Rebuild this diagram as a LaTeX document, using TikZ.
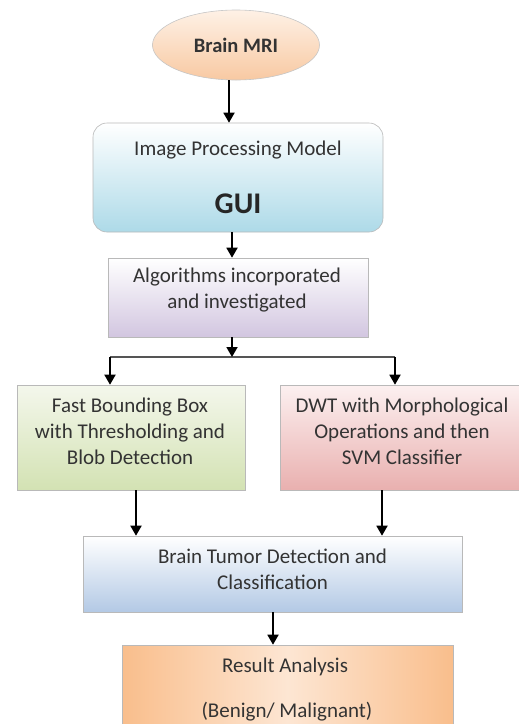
\documentclass[tikz,border=0pt]{standalone}
\usepackage{fontspec}
\setmainfont{Carlito}
\usetikzlibrary{shapes.geometric,arrows.meta,calc}
\definecolor{mriTop}{HTML}{FEF1E6}
\definecolor{mriBot}{HTML}{F8C9A2}
\definecolor{guiBot}{HTML}{ADDAE8}
\definecolor{algBot}{HTML}{D2C6E0}
\definecolor{fbbTop}{HTML}{F4F7EC}
\definecolor{fbbBot}{HTML}{D3E2B3}
\definecolor{dwtTop}{HTML}{FCF0F0}
\definecolor{dwtBot}{HTML}{E9B0AF}
\definecolor{btdBot}{HTML}{B3C9E5}
\definecolor{resEdge}{HTML}{F9BE8C}
\definecolor{resMid}{HTML}{FDE6D3}
\definecolor{split}{HTML}{555555}
\begin{document}
\begin{tikzpicture}[x=1pt,y=-1pt,
  boxstyle/.style={draw=gray!55, line width=0.6pt, inner sep=0pt},
  txt/.style={font=\fontsize{21}{26}\selectfont, align=center, inner sep=0pt, anchor=base, text=black!80},
  arr/.style={line width=1.8pt, -{Triangle[length=10pt,width=11pt]}}]
\useasboundingbox (0,0) rectangle (519,724);

% shapes
\node[ellipse, draw=gray!45, line width=0.6pt, top color=mriTop, bottom color=mriBot,
      minimum width=167pt, minimum height=70pt, text=black!80,
      font=\bfseries\fontsize{20.5}{24}\selectfont] (mri) at (236,45) {Brain MRI};

\node[boxstyle, rounded corners=14pt, top color=white, bottom color=guiBot,
      minimum width=290pt, minimum height=109pt] (gui) at (238,177.5) {};
\node[txt] (guiA) at (238,155) {Image Processing Model};
\node[txt, font=\bfseries\fontsize{30}{36}\selectfont, text=black!85] (guiB) at (238,213) {GUI};

\node[boxstyle, top color=white, bottom color=algBot,
      minimum width=260pt, minimum height=79pt] (alg) at (238,297.5) {};
\node[txt] (algT) at (237,308) {Algorithms incorporated\\and investigated};

\node[boxstyle, top color=fbbTop, bottom color=fbbBot,
      minimum width=228pt, minimum height=105pt] (fbb) at (131,437.5) {};
\node[txt] (fbbT) at (130,464) {Fast Bounding Box\\with Thresholding and\\Blob Detection};

\node[boxstyle, top color=dwtTop, bottom color=dwtBot,
      minimum width=242pt, minimum height=105pt] (dwt) at (401,437.5) {};
\node[txt] (dwtT) at (402,464) {DWT with Morphological\\Operations and then\\SVM Classifier};

\node[boxstyle, top color=white, bottom color=btdBot,
      minimum width=379pt, minimum height=76pt] (btd) at (272.5,574) {};
\node[txt] (btdT) at (272.5,589) {Brain Tumor Detection and\\Classification};

\node[boxstyle, left color=resEdge, right color=resEdge, middle color=resMid,
      minimum width=331pt, minimum height=85pt] (res) at (287.5,687.5) {};
\node[txt] (resA) at (285,672) {Result Analysis};
\node[txt] (resB) at (287,717) {(Benign/ Malignant)};

% connector guides
\coordinate (c1) at (229,0);
\coordinate (c2) at (232,0);
\coordinate (sp) at (232,357);
\coordinate (spL) at (110,357);
\coordinate (spR) at (395,357);
\coordinate (c6) at (136,0);
\coordinate (c7) at (382,0);
\coordinate (c8) at (273,0);

% connectors
\draw[arr] (mri.south -| c1) -- (gui.north -| c1);
\draw[arr] (gui.south -| c2) -- (alg.north -| c2);
\draw[line width=2.4pt, split] (spL) -- (spR);
\draw[arr] (alg.south -| sp) -- (sp);
\draw[arr] (spL) -- (fbb.north -| spL);
\draw[arr] (spR) -- (dwt.north -| spR);
\draw[arr] (fbb.south -| c6) -- (btd.north -| c6);
\draw[arr] (dwt.south -| c7) -- (btd.north -| c7);
\draw[arr] (btd.south -| c8) -- (res.north -| c8);
\end{tikzpicture}
\end{document}
